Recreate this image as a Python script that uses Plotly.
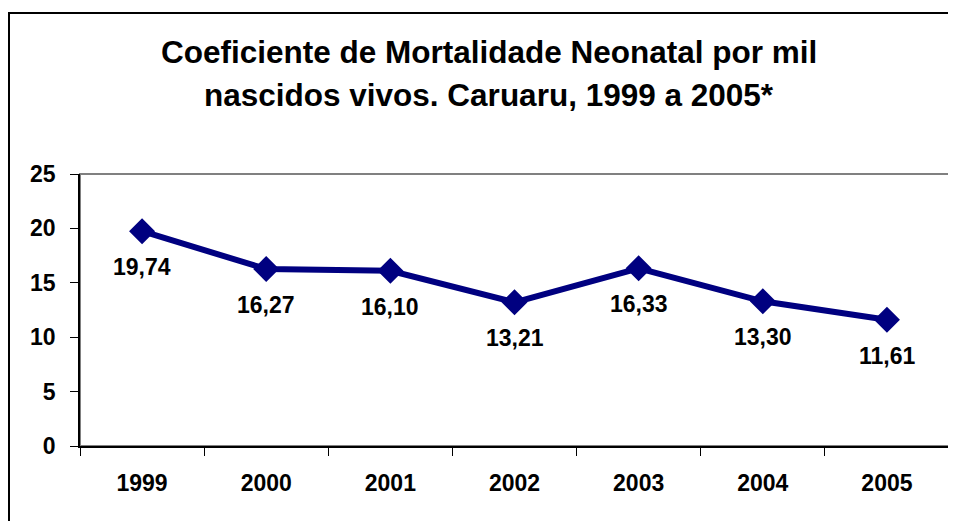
import plotly.graph_objects as go

years = ["1999", "2000", "2001", "2002", "2003", "2004", "2005"]
values = [19.74, 16.27, 16.10, 13.21, 16.33, 13.30, 11.61]
labels = ["19,74", "16,27", "16,10", "13,21", "16,33", "13,30", "11,61"]
title_lines = ["Coeficiente de Mortalidade Neonatal por mil",
               "nascidos vivos. Caruaru, 1999 a 2005*"]

W, H = 956, 521
OFF = 8  # page body offset
L, R, T, B = 80 - OFF, 7 + OFF, 174 - OFF, 75 + OFF
pw, ph = W - L - R, H - T - B

FONT = "Liberation Sans, Arial, sans-serif"

def px_x(x):  # screen x -> paper
    return (x - OFF - L) / pw

def px_y(y):  # screen y -> paper
    return (H - B - (y - OFF)) / ph

fig = go.Figure()
fig.add_trace(go.Scatter(
    x=years, y=values, mode="lines+markers",
    line=dict(color="#000080", width=6),
    marker=dict(symbol="diamond", size=20, color="#000080"),
    showlegend=False, hoverinfo="skip",
))

for i, (v, t) in enumerate(zip(values, labels)):
    fig.add_annotation(x=i, y=v, text=f"<b>{t}</b>", showarrow=False,
                       yshift=-36, font=dict(family=FONT, size=23, color="black"))

for i, line in enumerate(title_lines):
    fig.add_annotation(xref="paper", yref="paper",
                       x=px_x(489), y=px_y([52, 95][i]),
                       text=f"<b>{line}</b>", showarrow=False,
                       xanchor="center", yanchor="middle",
                       font=dict(family=FONT, size=31.5, color="black"))

# plot area frame (gray), axes drawn over it
fig.add_shape(type="rect", xref="paper", yref="paper", x0=0, y0=0, x1=1, y1=1,
              line=dict(color="#808080", width=2), layer="below")
# outer chart border
fig.add_shape(type="rect", xref="paper", yref="paper",
              x0=px_x(9), x1=px_x(975),
              y0=px_y(540), y1=px_y(13),
              line=dict(color="black", width=2), layer="below")

fig.update_layout(
    width=W, height=H,
    margin=dict(l=L, r=R, t=T, b=B, autoexpand=False),
    paper_bgcolor="white", plot_bgcolor="white",
    font=dict(family=FONT, color="black"),
)
fig.update_xaxes(
    type="category", range=[-0.5, len(years) - 0.5], automargin=False,
    showgrid=False, zeroline=False,
    showline=True, linecolor="black", linewidth=1.5,
    ticks="outside", tickson="boundaries", ticklen=8, tickcolor="black",
    tickfont=dict(family=FONT, size=23, color="black"), tickangle=0,
    ticklabelstandoff=16,
    tickprefix="<b>", ticksuffix="</b>",
)
fig.update_yaxes(
    range=[0, 25], dtick=5, automargin=False, showgrid=False, zeroline=False,
    showline=True, linecolor="black", linewidth=1.5,
    ticks="outside", ticklen=8, tickcolor="black",
    tickfont=dict(family=FONT, size=23, color="black"),
    ticklabelstandoff=10,
    tickprefix="<b>", ticksuffix="</b>",
)

fig.write_html("out.html")
